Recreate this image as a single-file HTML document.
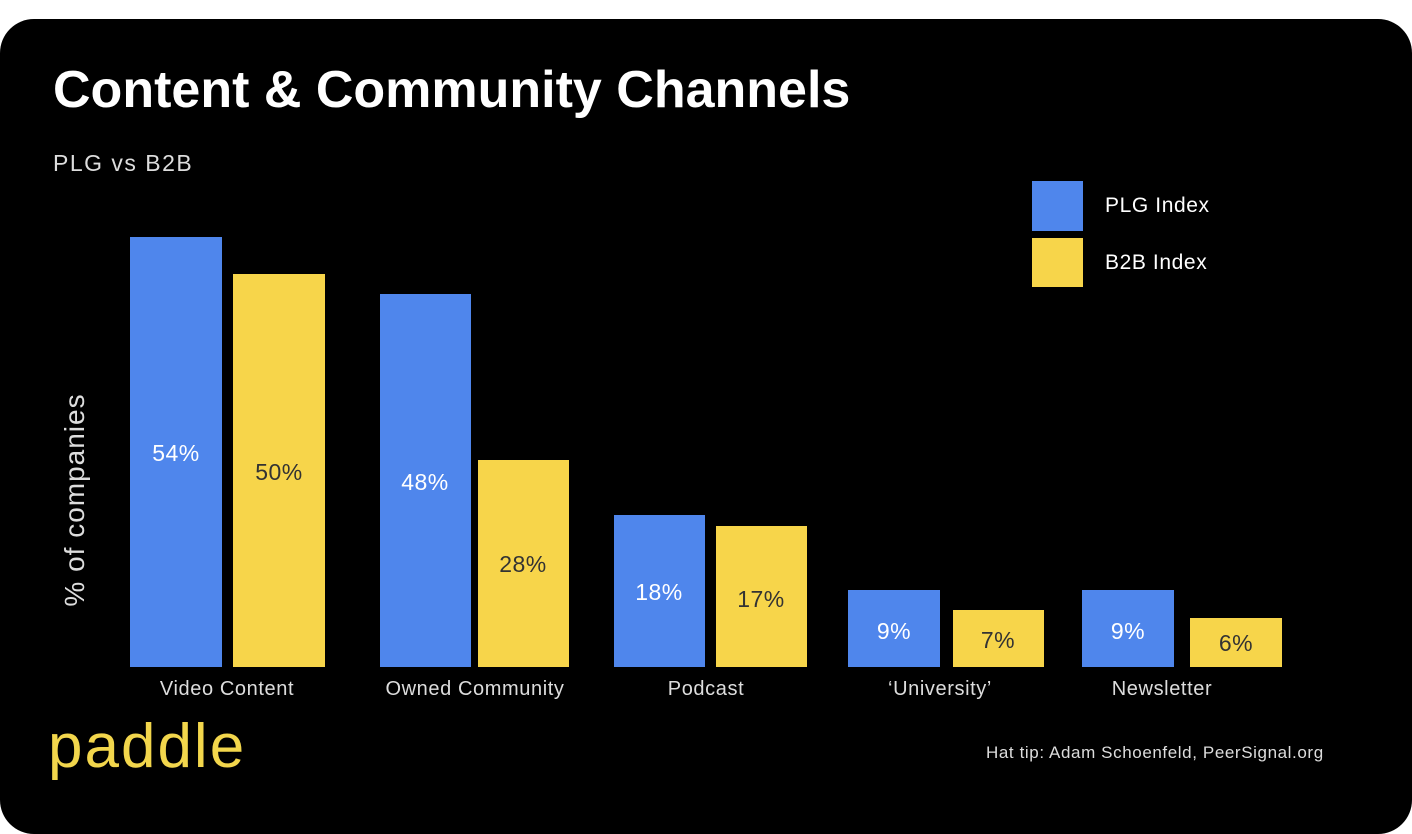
<!DOCTYPE html>
<html><head><style>
body{margin:0;background:#fff;width:1412px;height:814px;overflow:hidden;font-family:"Liberation Sans",sans-serif}
.box{position:absolute;left:0;top:19px;width:1412px;height:815px;background:#000;border-radius:34px}
.t{position:absolute;color:#fff;white-space:nowrap}
.b{position:absolute}
.bl{background:#4f86ec}.yl{background:#f7d54a}
.v{position:absolute;font-size:23px;letter-spacing:0.5px;white-space:nowrap;transform:translateX(-50%)}
.l{font-size:20px;letter-spacing:0.6px;color:#ddd}
</style></head><body>
<div class="box"></div>
<div class="t" style="left:53px;top:60px;font-size:52px;font-weight:bold">Content &amp; Community Channels</div>
<div class="t" style="left:53px;top:150px;font-size:23px;letter-spacing:1.5px;color:#ddd">PLG vs B2B</div>
<div class="t" style="left:75px;top:500px;font-size:28px;letter-spacing:1px;color:#ddd;transform:translate(-50%,-50%) rotate(-90deg)">% of companies</div>
<div class="b bl" style="left:1032px;top:181px;width:51px;height:50px"></div>
<div class="b yl" style="left:1032px;top:238px;width:51px;height:49px"></div>
<div class="t" style="left:1105px;top:194px;font-size:21px;letter-spacing:0.6px">PLG Index</div>
<div class="t" style="left:1105px;top:251px;font-size:21px;letter-spacing:0.6px">B2B Index</div>

<div class="b bl" style="left:130px;top:237px;width:92px;height:430px"></div>
<div class="b yl" style="left:233px;top:274px;width:92px;height:393px"></div>
<div class="b bl" style="left:380px;top:294px;width:91px;height:373px"></div>
<div class="b yl" style="left:478px;top:460px;width:91px;height:207px"></div>
<div class="b bl" style="left:614px;top:515px;width:91px;height:152px"></div>
<div class="b yl" style="left:716px;top:526px;width:91px;height:141px"></div>
<div class="b bl" style="left:848px;top:590px;width:92px;height:77px"></div>
<div class="b yl" style="left:953px;top:610px;width:91px;height:57px"></div>
<div class="b bl" style="left:1082px;top:590px;width:92px;height:77px"></div>
<div class="b yl" style="left:1190px;top:618px;width:92px;height:49px"></div>

<div class="v" style="left:176px;top:440px;color:#fff">54%</div>
<div class="v" style="left:279px;top:459px;color:#333">50%</div>
<div class="v" style="left:425px;top:469px;color:#fff">48%</div>
<div class="v" style="left:523px;top:551px;color:#333">28%</div>
<div class="v" style="left:659px;top:579px;color:#fff">18%</div>
<div class="v" style="left:761px;top:586px;color:#333">17%</div>
<div class="v" style="left:894px;top:618px;color:#fff">9%</div>
<div class="v" style="left:998px;top:627px;color:#333">7%</div>
<div class="v" style="left:1128px;top:618px;color:#fff">9%</div>
<div class="v" style="left:1236px;top:630px;color:#333">6%</div>

<div class="v l" style="left:227px;top:678px">Video Content</div>
<div class="v l" style="left:475px;top:678px">Owned Community</div>
<div class="v l" style="left:706px;top:678px">Podcast</div>
<div class="v l" style="left:940px;top:678px">‘University’</div>
<div class="v l" style="left:1162px;top:678px">Newsletter</div>

<div class="t" style="left:48px;top:711px;font-size:62px;color:#f2d64c;letter-spacing:2px">paddle</div>
<div class="t" style="left:986px;top:743px;font-size:17px;letter-spacing:0.6px;color:#ddd">Hat tip: Adam Schoenfeld, PeerSignal.org</div>
</body></html>
